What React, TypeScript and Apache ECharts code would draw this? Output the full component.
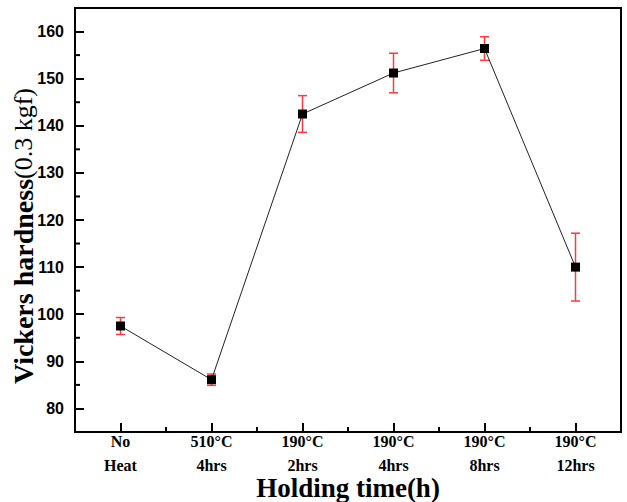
import React, { useEffect, useRef } from "react";
import * as echarts from "echarts";

const categories = ["No\nHeat", "510°C\n4hrs", "190°C\n2hrs", "190°C\n4hrs", "190°C\n8hrs", "190°C\n12hrs"];
const hardness = [97.5, 86.1, 142.5, 151.2, 156.4, 110.0];
const errors = [1.8, 1.2, 3.9, 4.2, 2.5, 7.2];
const majorTicks = [80, 90, 100, 110, 120, 130, 140, 150, 160];
const minorTicks = [85, 95, 105, 115, 125, 135, 145, 155];

const SERIF = "'Liberation Serif', 'Times New Roman', serif";
const SANS = "'Liberation Sans', Arial, sans-serif";

export default function App() {
  const ref = useRef<HTMLDivElement>(null);
  useEffect(() => {
    if (!ref.current) return;
    const chart = echarts.init(ref.current, null, { renderer: "svg" });
    const errData = hardness.map((v, i) => [i, v - errors[i], v + errors[i]]);
    const yMinorData = minorTicks.map((v) => [0, v]);
    const xMinorData = categories.slice(1).map((_, i) => [i + 1, 80]);
    const tickStyle = { stroke: "#000", lineWidth: 2 };
    const axisLine = { show: true, lineStyle: { color: "#000", width: 2 } };
    chart.setOption({
      animation: false,
      backgroundColor: "#fff",
      grid: {
        left: 75,
        right: 6,
        top: 8,
        bottom: 70,
        containLabel: false,
        outerBoundsMode: "none",
        show: true,
        borderColor: "#000",
        borderWidth: 2,
        backgroundColor: "transparent",
      },
      xAxis: {
        type: "category",
        data: categories,
        boundaryGap: true,
        name: "Holding time(h)",
        nameLocation: "middle",
        nameMoveOverlap: false,
        nameGap: 42,
        nameTextStyle: {
          fontFamily: SERIF,
          fontWeight: "bold",
          fontSize: 27,
          color: "#000",
          verticalAlign: "top",
        },
        axisLine,
        axisTick: { show: true, alignWithLabel: true, inside: true, length: 9, lineStyle: { color: "#000", width: 2 } },
        axisLabel: {
          fontFamily: SERIF,
          fontWeight: "bold",
          fontSize: 16,
          color: "#000",
          lineHeight: 24,
          margin: -3,
          interval: 0,
        },
        splitLine: { show: false },
      },
      yAxis: {
        type: "value",
        min: 75,
        max: 165,
        name: "{b|Vickers hardness}{n|(0.3 kgf)}",
        nameLocation: "middle",
        nameMoveOverlap: false,
        nameGap: 38,
        nameRotate: 90,
        nameTextStyle: {
          padding: [0, 32, 0, 0],
          rich: {
            b: { fontFamily: SERIF, fontWeight: "bold", fontSize: 28, color: "#000" },
            n: { fontFamily: SERIF, fontWeight: "normal", fontSize: 26, color: "#000" },
          },
        },
        axisLine,
        axisTick: {
          show: true,
          inside: true,
          length: 9,
          customValues: majorTicks,
          lineStyle: { color: "#000", width: 2 },
        },
        axisLabel: {
          customValues: majorTicks,
          fontFamily: SANS,
          fontWeight: "bold",
          fontSize: 16,
          color: "#000",
          margin: 11,
        },
        splitLine: { show: false },
      },
      series: [
        {
          type: "custom",
          z: 5,
          silent: true,
          data: yMinorData,
          renderItem: (params: any, api: any) => {
            const p = api.coord([0, api.value(1)]);
            const x0 = params.coordSys.x;
            return { type: "line", shape: { x1: x0, y1: p[1], x2: x0 + 5, y2: p[1] }, style: tickStyle };
          },
        },
        {
          type: "custom",
          z: 5,
          silent: true,
          data: xMinorData,
          renderItem: (params: any, api: any) => {
            const p = api.coord([api.value(0), api.value(1)]);
            const band = api.size([1, 0])[0];
            const x = p[0] - band / 2;
            const y0 = params.coordSys.y + params.coordSys.height;
            return { type: "line", shape: { x1: x, y1: y0, x2: x, y2: y0 - 5 }, style: tickStyle };
          },
        },
        {
          type: "custom",
          z: 2,
          data: errData,
          renderItem: (params: any, api: any) => {
            const x = api.value(0);
            const lo = api.coord([x, api.value(1)]);
            const hi = api.coord([x, api.value(2)]);
            const hw = 4.5;
            const style = { stroke: "#ff3a3a", lineWidth: 1.5, fill: "none" };
            return {
              type: "group",
              children: [
                { type: "line", shape: { x1: hi[0], y1: hi[1], x2: lo[0], y2: lo[1] }, style },
                { type: "line", shape: { x1: hi[0] - hw, y1: hi[1], x2: hi[0] + hw, y2: hi[1] }, style },
                { type: "line", shape: { x1: lo[0] - hw, y1: lo[1], x2: lo[0] + hw, y2: lo[1] }, style },
              ],
            };
          },
        },
        {
          type: "line",
          z: 3,
          data: hardness,
          symbol: "rect",
          symbolSize: 9,
          itemStyle: { color: "#000" },
          lineStyle: { color: "#222", width: 1 },
        },
      ],
    });
    return () => chart.dispose();
  }, []);
  return (
    <div
      ref={ref}
      style={{ position: "fixed", left: 0, top: 0, width: 627, height: 502, background: "#fff" }}
    />
  );
}
